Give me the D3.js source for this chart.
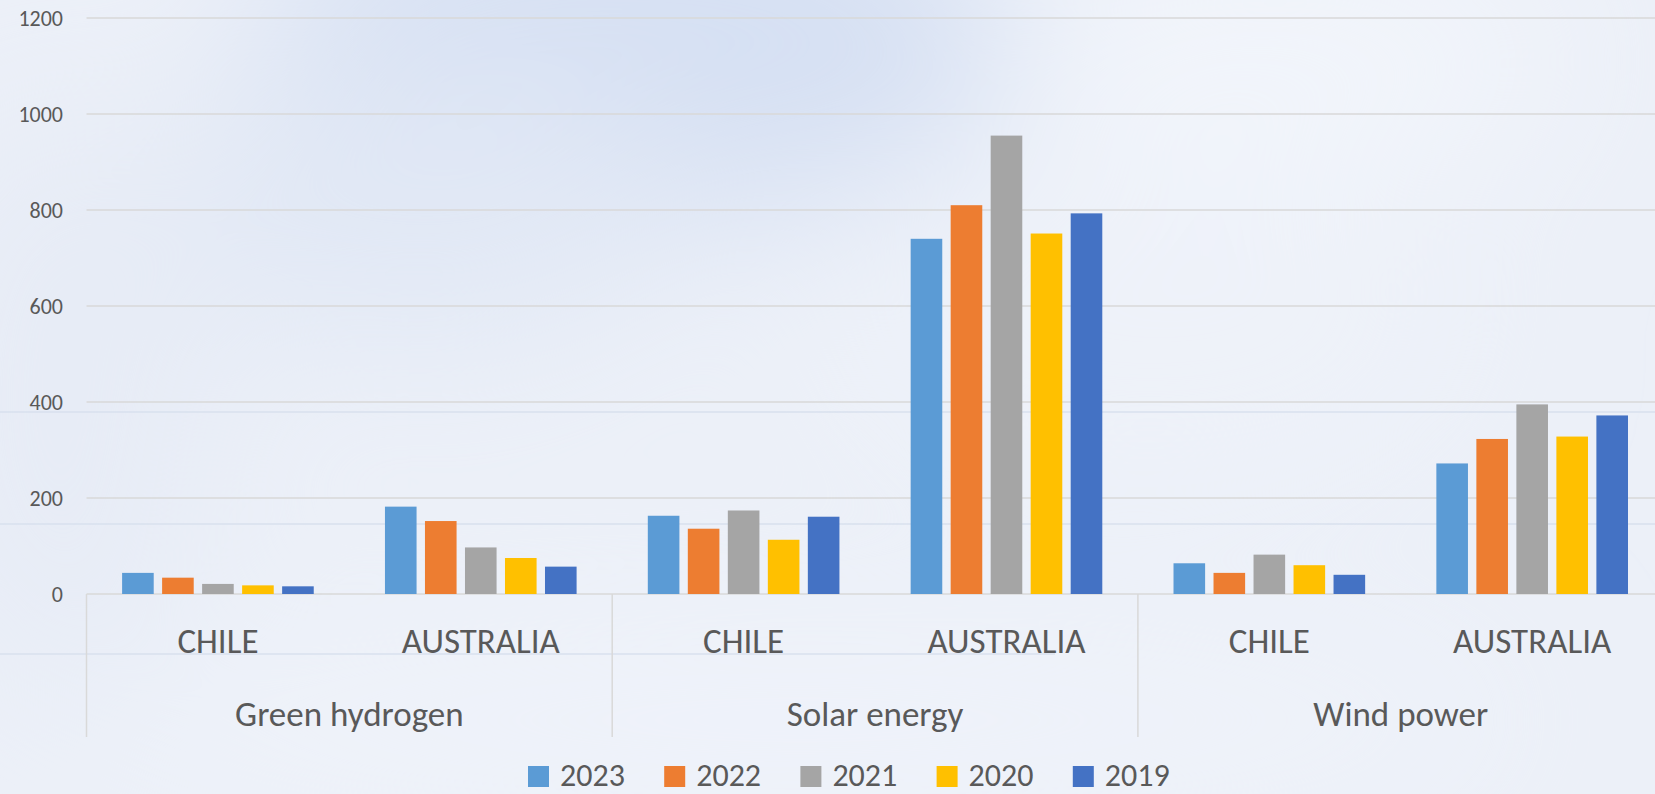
<!DOCTYPE html>
<html>
<head>
<meta charset="utf-8">
<script src="https://cdn.jsdelivr.net/npm/d3@7"></script>
<style>
  html, body { margin: 0; padding: 0; overflow: hidden; background: #edf1f9; }
  svg { display: block; font-family: Carlito, Lato, "Open Sans", sans-serif; }
</style>
</head>
<body>
<svg id="svg" width="1655" height="794"></svg>
<script>
// chart data
const groups = ["Green hydrogen", "Solar energy", "Wind power"];
const countries = ["CHILE", "AUSTRALIA"];
const years = ["2023", "2022", "2021", "2020", "2019"];
// order: GH chile, GH australia, solar chile, solar australia, wind chile, wind australia
const values2023 = [44, 182, 163, 740, 64, 272];
const values2022 = [34, 152, 136, 810, 44, 323];
const values2021 = [21, 97, 174, 955, 82, 395];
const values2020 = [18, 75, 113, 751, 60, 328];
const values2019 = [16, 57, 161, 793, 40, 372];
const yTicks = [0, 200, 400, 600, 800, 1000, 1200];
const colors = ["#5b9bd5", "#ed7d31", "#a5a5a5", "#ffc000", "#4472c4"];

const seriesValues = [values2023, values2022, values2021, values2020, values2019];

const width = 1655;
const height = 794;
const svg = d3.select("#svg");

// cloudy slide background
const defs = svg.append("defs");
const blur = defs.append("filter").attr("id", "soft")
  .attr("x", "-50%").attr("y", "-50%").attr("width", "200%").attr("height", "200%");
blur.append("feGaussianBlur").attr("stdDeviation", 80);

svg.append("rect").attr("width", width).attr("height", height).attr("fill", "#ecf0f8");
const clouds = svg.append("g").attr("filter", "url(#soft)");
clouds.append("ellipse").attr("cx", 640).attr("cy", 40).attr("rx", 380).attr("ry", 180).attr("fill", "#d6e0f3");
clouds.append("ellipse").attr("cx", 420).attr("cy", 200).attr("rx", 260).attr("ry", 140).attr("fill", "#e1e8f5");
clouds.append("ellipse").attr("cx", 1280).attr("cy", 60).attr("rx", 280).attr("ry", 120).attr("fill", "#f2f5fb");
clouds.append("ellipse").attr("cx", 1150).attr("cy", 320).attr("rx", 320).attr("ry", 170).attr("fill", "#eef2f9");
clouds.append("ellipse").attr("cx", 800).attr("cy", 720).attr("rx", 720).attr("ry", 100).attr("fill", "#eff3fa");
clouds.append("ellipse").attr("cx", 60).attr("cy", 400).attr("rx", 160).attr("ry", 300).attr("fill", "#e7ecf6");

// faint lines from the slide behind the chart
svg.append("g").attr("stroke", "#d8e0ee").attr("stroke-width", 1.5)
  .selectAll("line")
  .data([[0, 412, width], [0, 524, width], [0, 654, 1055]])
  .enter().append("line")
  .attr("x1", d => d[0]).attr("x2", d => d[2])
  .attr("y1", d => d[1]).attr("y2", d => d[1]);

// scales
const left = 86.5;
const y = d3.scaleLinear().domain([0, 1200]).range([594, 18]);
const xGroup = d3.scaleBand().domain(groups).range([left, left + 3 * 525.7]);
const xCountry = d3.scaleBand().domain(countries).range([0, xGroup.bandwidth()]);
const xYear = d3.scaleBand().domain(years).range([0, xCountry.bandwidth()])
  .paddingInner(0.21).paddingOuter(0.89);

// gridlines
svg.append("g")
  .selectAll("line")
  .data(yTicks)
  .enter().append("line")
  .attr("x1", left).attr("x2", width)
  .attr("y1", d => y(d)).attr("y2", d => y(d))
  .attr("stroke", "#d9d9d9").attr("stroke-width", 1.5);

// y axis labels
const yAxis = svg.append("g").attr("transform", "translate(63,0)")
  .call(d3.axisLeft(y).tickValues(yTicks).tickFormat(d3.format("d")).tickSize(0).tickPadding(0));
yAxis.select(".domain").remove();
yAxis.selectAll("text").attr("fill", "#595959").attr("font-size", 22)
  .attr("font-family", "Carlito, Lato, sans-serif");

// bars
const cells = [];
groups.forEach((g, gi) => {
  countries.forEach((c, ci) => {
    years.forEach((yr, yi) => {
      cells.push({ group: g, country: c, year: yr, color: colors[yi],
        value: seriesValues[yi][gi * 2 + ci] });
    });
  });
});

svg.append("g")
  .selectAll("rect")
  .data(cells)
  .enter().append("rect")
  .attr("x", d => xGroup(d.group) + xCountry(d.country) + xYear(d.year))
  .attr("width", xYear.bandwidth())
  .attr("y", d => y(d.value))
  .attr("height", d => y(0) - y(d.value))
  .attr("fill", d => d.color);

// multi-level category axis
const axis = svg.append("g");
axis.selectAll(".divider")
  .data(groups.concat(["end"]))
  .enter().append("line")
  .attr("class", "divider")
  .attr("x1", (d, i) => left + i * xGroup.bandwidth())
  .attr("x2", (d, i) => left + i * xGroup.bandwidth())
  .attr("y1", y(0)).attr("y2", 737)
  .attr("stroke", "#d9d9d9").attr("stroke-width", 1.5);

const countryLabels = [];
groups.forEach(g => countries.forEach(c => countryLabels.push({ g, c })));
axis.selectAll(".country")
  .data(countryLabels)
  .enter().append("text")
  .attr("class", "country")
  .attr("x", d => xGroup(d.g) + xCountry(d.c) + xCountry.bandwidth() / 2)
  .attr("y", 653)
  .attr("text-anchor", "middle")
  .attr("fill", "#595959")
  .attr("font-size", 35)
  .text(d => d.c);

axis.selectAll(".group")
  .data(groups)
  .enter().append("text")
  .attr("class", "group")
  .attr("x", d => xGroup(d) + xGroup.bandwidth() / 2)
  .attr("y", 726)
  .attr("text-anchor", "middle")
  .attr("fill", "#595959")
  .attr("font-size", 35)
  .text(d => d);

// legend
const legend = svg.append("g").attr("transform", "translate(528,0)");
const item = legend.selectAll("g")
  .data(years)
  .enter().append("g")
  .attr("transform", (d, i) => "translate(" + i * 136.2 + ",0)");
item.append("rect")
  .attr("y", 766).attr("width", 21).attr("height", 21)
  .attr("fill", (d, i) => colors[i]);
item.append("text")
  .attr("x", 32).attr("y", 786)
  .attr("fill", "#595959")
  .attr("font-size", 32)
  .text(d => d);
</script>
</body>
</html>
